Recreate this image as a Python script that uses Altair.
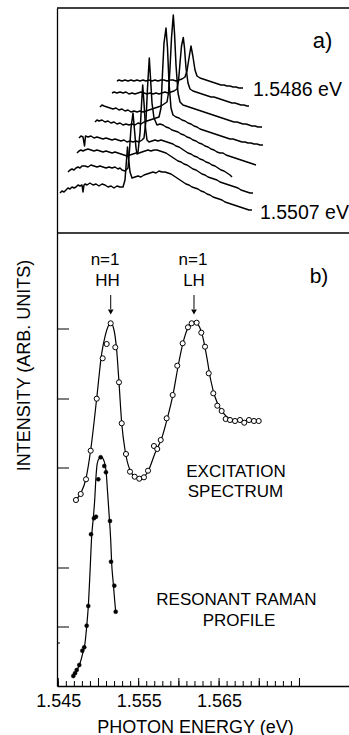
import altair as alt
import pandas as pd

FONT = "Liberation Sans"

# ---------------- Panel a) : waterfall of 8 spectra (arbitrary units) ----------------
t1_x = [3,5,7,9,11,13,15,17,19,21,23,25,26,27,28,30,33,36,39,42,45,48,51,54,57,60,63,66,68,69.5,70.5,71.5,73,75,78,81,84,87,90,93,96,99,102,105,108,111,114,117,120,123,126,129,132,135,138,141,144,147,150,153,156,159,162,165,168,171,174,177,180,183,186,189,192,195]
t1_y = [40,42,41,43,45,44,46,45,46,48,47,48,41,48,49,48,50,48,49,47,49,48,46,47,45,47,46,46,53,73,86,75,61,55,56,57,56,58,59,60,61,60,62,61,61,60,59,57,55,53,51,49,48,46,45,44,42,41,39,38,36,35,34,33,31,30,29,28,27,26,25,24,23,23,22,21]

t2_x = [11,13,15,17,19,21,23,25,28,31,34,37,40,43,46,49,52,55,58,61,63,65,68,71,72.5,74,76,77.5,79,80,82,85,88,91,94,97,100,103,106,109,112,115,118,121,124,127,130,133,136,139,142,145,148,151,154,157,160,163,166,169,172,175,178,181,184,187,190,193,196]
t2_y = [61,63,64,63,65,66,65,67,67,66,68,67,66,67,66,65,66,65,66,64,65,63,62,65,83,105,120,103,85,79,80,81,82,83,82,83,83,82,81,80,78,76,74,72,71,69,68,66,64,63,61,59,58,56,55,54,53,51,50,49,48,47,46,45,43,42,41,40,40]

t3_x = [20,22,24,26,28,31,34,37,40,43,46,49,52,55,58,61,64,67,70,73,76,79,81,83,84.5,85.7,87,88.5,90,92,95,98,101,104,107,110,113,116,119,122,125,128,131,134,137,140,143,146,149,152,155,158,161,164,167,170,173,175]
t3_y = [80,82,83,82,83,84,83,82,83,82,81,82,81,80,81,80,79,78,77,78,79,80,81,100,128,148,130,105,93,91,92,93,92,93,92,91,90,89,87,86,84,82,80,79,77,76,74,73,71,70,68,67,65,63,62,60,58,56]

t4_x = [22,24,26,27.5,28.5,31,34,37,40,43,46,49,52,55,58,61,64,67,70,73,76,79,82,85,87,89,90.5,92.3,93.5,95,97,100,103,106,109,112,115,118,121,124,127,130,133,136,139,142,145,148,151,154,157,160,163,166,169,172,175,178,181,184,187,190,193,196,199]
t4_y = [95,97,96,87,97,96,97,95,96,95,94,95,94,93,94,93,92,93,91,92,91,92,91,93,95,113,145,175,155,130,115,108,109,108,106,105,103,102,101,99,98,96,95,93,92,90,89,87,86,84,83,81,80,80,78,77,76,75,74,73,72,71,70,69,68]

t5_x = [38,40,42,45,48,51,54,57,60,63,66,69,72,75,78,81,84,87,90,93,96,99,102,104,105.5,107,109,110.5,112,114,116,119,122,125,128,131,134,137,140,143,146,149,152,155,158,161,164,167,170,173,176,179,182,185,188,191,194,197,200,203,206]
t5_y = [111,113,112,113,111,112,110,111,109,110,108,109,108,109,108,110,109,111,112,113,114,115,116,125,160,190,205,185,150,125,118,116,115,113,112,110,109,107,106,104,103,102,101,100,99,98,97,96,95,94,94,93,92,91,91,90,90,89,89,88,88]

t6_x = [43,45,47,50,53,56,59,62,65,68,71,74,77,80,83,86,89,92,95,98,101,104,107,110,111.5,113,114.5,116.3,117.5,119,121,123,126,129,132,135,138,141,144,147,150,153,156,159,162,165,168,171,174,177,180,183,186,189,192,195,198,201,205]
t6_y = [126,128,127,126,125,124,125,123,124,122,123,121,122,121,122,121,122,123,124,125,126,127,129,131,140,165,195,218,200,168,140,131,128,127,126,125,124,123,122,121,120,119,118,117,116,115,114,113,112,111,111,110,109,109,108,107,107,106,106]

t7_x = [55,57,60,63,66,69,72,75,78,81,84,87,90,93,96,99,102,105,108,111,114,117,120,121.5,123,124.5,126.3,127.5,129,131,133,136,139,142,145,148,151,154,157,160,163,166,169,172,175,178,181,184,187,190,192]
t7_y = [140,141,140,141,140,141,139,140,139,140,141,140,139,140,139,140,139,140,141,140,141,142,144,152,170,187,195.5,185,165,150,144,142,141,140,139,138,137,136,136,135,134,133,132,131,130,130,129,128,128,127,127]

t8_x = [60,62,65,68,71,74,77,80,83,86,89,92,95,98,101,104,107,110,113,116,119,122,125,128,130,132,134,136,138,140,143,146,149,152,155,158,161,164,167,170,173,176,179,182,186]
t8_y = [152,153,152,153,152,153,152,153,152,153,152,153,152,153,152,153,153,152,153,153,152,153,154,156,162,175,187,176,163,157,155,154,153,152,151,150,149,148,148,147,147,146,146,145,145]

traces_a = [(t1_x, t1_y), (t2_x, t2_y), (t3_x, t3_y), (t4_x, t4_y),
            (t5_x, t5_y), (t6_x, t6_y), (t7_x, t7_y), (t8_x, t8_y)]

rows = []
for k, (xs, ys) in enumerate(traces_a):
    for i, (xv, yv) in enumerate(zip(xs, ys)):
        rows.append({"trace": k + 1, "i": i, "x": xv, "y": yv})
df_a = pd.DataFrame(rows)

a_labels = ["a)", "1.5486 eV", "1.5507 eV"]
a_lab_x = [265.5, 196, 203]
a_lab_y = [192.5, 143.5, 20]
a_lab_align = ["center", "left", "left"]
df_a_lab = pd.DataFrame({"t": a_labels, "x": a_lab_x, "y": a_lab_y, "al": a_lab_align})

XA = alt.Scale(domain=[0, 292], nice=False, zero=False)
YA = alt.Scale(domain=[-453, 225], nice=False, zero=False)

a_lines = alt.Chart(df_a).mark_line(color="black", strokeWidth=1.5, strokeJoin="round").encode(
    x=alt.X("x:Q", scale=XA, axis=None),
    y=alt.Y("y:Q", scale=YA, axis=None),
    detail="trace:N",
    order="i:Q",
)
a_text_c = alt.Chart(df_a_lab[df_a_lab.al == "center"]).mark_text(
    font=FONT, fontSize=22, align="center", baseline="middle", color="black"
).encode(x=alt.X("x:Q", scale=XA, axis=None), y=alt.Y("y:Q", scale=YA, axis=None), text="t:N")
a_text_l = alt.Chart(df_a_lab[df_a_lab.al == "left"]).mark_text(
    font=FONT, fontSize=19.5, align="left", baseline="middle", color="black"
).encode(x=alt.X("x:Q", scale=XA, axis=None), y=alt.Y("y:Q", scale=YA, axis=None), text="t:N")

frame_top = alt.Chart(pd.DataFrame({"k": [0]})).mark_rule(color="black", strokeWidth=1.3).encode(
    x=alt.value(0), x2=alt.value(292), y=alt.value(0))
frame_sep = alt.Chart(pd.DataFrame({"k": [0]})).mark_rule(color="black", strokeWidth=1.3).encode(
    x=alt.value(0), x2=alt.value(292), y=alt.value(225))

panel_a = alt.layer(a_lines, a_text_c, a_text_l, frame_top, frame_sep)

# ---------------- Panel b) : excitation spectrum & resonant Raman profile ----------------
exc_E = [1.54720,1.54779,1.54845,1.54903,1.54978,1.55052,1.55102,1.55152,1.55209,1.55255,1.55289,1.55342,1.55392,1.55450,1.55507,1.55566,1.55616,1.55690,1.55731,1.55774,1.55848,1.55923,1.55980,1.56047,1.56113,1.56159,1.56221,1.56279,1.56325,1.56371,1.56428,1.56478,1.56532,1.56582,1.56636,1.56698,1.56760,1.56813,1.56872,1.56934,1.56993]
exc_I = [186,192,206.7,235.3,287.3,327.7,342,362.7,338.7,303.7,262.7,232,214.3,209.3,207.3,208.7,215.3,240,237,246,267.7,291,320.3,342.7,358.7,362.7,363.3,353.3,339.3,312.7,292.7,280.3,275,267,266,265,266,263.3,266,265,265]

exc_fit_E = [1.54720,1.54779,1.54845,1.54903,1.54978,1.55040,1.55081,1.55122,1.55156,1.55193,1.55226,1.55255,1.55289,1.55330,1.55392,1.55483,1.55557,1.55624,1.55703,1.55786,1.55856,1.55930,1.55993,1.56055,1.56117,1.56179,1.56241,1.56296,1.56346,1.56396,1.56449,1.56511,1.56595,1.56677,1.56781,1.56884]
exc_fit_I = [186,192.7,207.7,236,287.7,332.7,349.3,360,362.7,356,336,303.7,262.7,236,216,207.7,208.7,216,232.7,247.7,267.7,292.7,321,344.3,358.7,363.3,361,349.3,329.3,306,289.3,277.7,269.3,266,265,265]

rr_E = [1.54687,1.54708,1.54729,1.54761,1.54799,1.54823,1.54853,1.54873,1.54907,1.54944,1.54969,1.54998,1.55027,1.55072,1.55093,1.55143,1.55156,1.55197,1.55214]
rr_I = [10,12.7,16,21,35.3,38.7,60.3,80,151.7,167.7,169.3,206.7,228.7,220,213.7,165,124.3,100.3,74.3]

rr_fit_E = [1.54674,1.54729,1.54770,1.54804,1.54832,1.54853,1.54873,1.54894,1.54915,1.54935,1.54953,1.54969,1.54985,1.55010,1.55040,1.55068,1.55093,1.55114,1.55134,1.55152,1.55164,1.55184,1.55201,1.55214]
rr_fit_I = [9.3,15.3,22.7,32.7,42.7,59.3,79.3,112.7,149.3,167.7,186,209.3,222.7,227.7,228.7,225.3,216,192.7,169.3,146,122.7,102.7,86,74.3]

x_tick_labels = [1.545, 1.555, 1.565]
minor_ticks = [1.545,1.546,1.547,1.548,1.549,1.550,1.551,1.552,1.553,1.554,1.555,1.556,1.557,1.558,1.559,1.560,1.561,1.562,1.563,1.564,1.565,1.566,1.567,1.568,1.569,1.570,1.571,1.572,1.573,1.574,1.575]
major_ticks = [1.545, 1.550, 1.555, 1.560, 1.565, 1.570, 1.575]
y_ticks = [357, 287, 218, 118, 59]
y_small_ticks = [43]

arrow_E = [1.55152, 1.56188]
arrow_top = [391, 391]
arrow_bot = [377, 377]
arrow_tip = [374, 374]

b_labels = ["n=1", "HH", "n=1", "LH", "b)", "EXCITATION", "SPECTRUM", "RESONANT RAMAN", "PROFILE"]
b_lab_E = [1.55082, 1.55112, 1.56175, 1.56188, 1.57743, 1.56710, 1.56704, 1.56716, 1.56748]
b_lab_I = [426, 405, 426, 405, 409, 214, 194, 86, 65.5]
b_lab_size = [17, 17, 17, 17, 21, 17, 17, 17, 17]

XB = alt.Scale(domain=[1.54484, 1.58116], nice=False, zero=False)
YB = alt.Scale(domain=[0, 678], nice=False, zero=False)

AX_X = alt.Axis(values=x_tick_labels, format=".3f", ticks=False, grid=False,
                domain=True, domainColor="black", domainWidth=1.3, labelPadding=6,
                labelFont=FONT, labelFontSize=18, labelColor="black",
                title="PHOTON ENERGY (eV)", titleFont=FONT, titleFontSize=18,
                titleFontWeight="normal", titleColor="black",
                titleX=138, titleY=46, titleBaseline="alphabetic", titleAlign="center")
AX_Y = alt.Axis(ticks=False, labels=False, grid=False, domain=True, domainColor="black", domainWidth=1.3,
                title="INTENSITY (ARB. UNITS)", titleFont=FONT, titleFontSize=18,
                titleFontWeight="normal", titleColor="black", titleAngle=270,
                titleX=-33, titleY=357, titleAlign="center", titleBaseline="middle")


def xb(field="E"):
    return alt.X(f"{field}:Q", scale=XB, axis=AX_X)


def yb(field="I"):
    return alt.Y(f"{field}:Q", scale=YB, axis=AX_Y)


df_exc = pd.DataFrame({"E": exc_E, "I": exc_I})
df_exc_fit = pd.DataFrame({"E": exc_fit_E, "I": exc_fit_I})
df_rr = pd.DataFrame({"E": rr_E, "I": rr_I})
df_rr_fit = pd.DataFrame({"E": rr_fit_E, "I": rr_fit_I})

exc_line = alt.Chart(df_exc_fit).mark_line(color="black", strokeWidth=1.2, interpolate="monotone").encode(
    x=xb(), y=yb())
exc_pts = alt.Chart(df_exc).mark_point(shape="circle", filled=True, fill="white", stroke="black",
                                       strokeWidth=1, size=26, opacity=1).encode(x=xb(), y=yb())
rr_line = alt.Chart(df_rr_fit).mark_line(color="black", strokeWidth=1.2, interpolate="monotone").encode(
    x=xb(), y=yb())
rr_pts = alt.Chart(df_rr).mark_point(shape="circle", filled=True, fill="black", stroke="black",
                                     strokeWidth=0.5, size=16, opacity=1).encode(x=xb(), y=yb())

df_minor = pd.DataFrame({"E": minor_ticks})
df_major = pd.DataFrame({"E": major_ticks})
xt_minor = alt.Chart(df_minor).mark_rule(color="black", strokeWidth=1).encode(
    x=xb(), y=alt.value(678), y2=alt.value(673))
xt_major = alt.Chart(df_major).mark_rule(color="black", strokeWidth=1).encode(
    x=xb(), y=alt.value(678), y2=alt.value(670))
df_yt = pd.DataFrame({"I": y_ticks})
yt = alt.Chart(df_yt).mark_rule(color="black", strokeWidth=1).encode(
    y=yb(), x=alt.value(0), x2=alt.value(12))
df_yts = pd.DataFrame({"I": y_small_ticks})
yts = alt.Chart(df_yts).mark_rule(color="black", strokeWidth=1).encode(
    y=yb(), x=alt.value(0), x2=alt.value(3))

df_arrow = pd.DataFrame({"E": arrow_E, "I": arrow_top, "bot": arrow_bot, "tip": arrow_tip})
arrow_shaft = alt.Chart(df_arrow).mark_rule(color="black", strokeWidth=1).encode(
    x=xb(), y=yb(), y2=alt.Y2("bot:Q"))
arrow_head = alt.Chart(df_arrow).mark_point(shape="triangle-down", filled=True, color="black",
                                            size=32, opacity=1).encode(
    x=xb(), y=alt.Y("tip:Q", scale=YB, axis=AX_Y))

df_b_lab = pd.DataFrame({"t": b_labels, "E": b_lab_E, "I": b_lab_I, "s": b_lab_size})
b_text_small = alt.Chart(df_b_lab[df_b_lab.s == 17]).mark_text(
    font=FONT, fontSize=17, align="center", baseline="middle", color="black").encode(
    x=xb(), y=yb(), text="t:N")
b_text_big = alt.Chart(df_b_lab[df_b_lab.s == 21]).mark_text(
    font=FONT, fontSize=21, align="center", baseline="middle", color="black").encode(
    x=xb(), y=yb(), text="t:N")

panel_b = alt.layer(exc_line, exc_pts, rr_line, rr_pts, xt_minor, xt_major, yt, yts,
                    arrow_shaft, arrow_head, b_text_small, b_text_big)

chart = alt.layer(panel_b, panel_a).resolve_scale(x="independent", y="independent").properties(
    width=292, height=678,
    autosize=alt.AutoSizeParams(type="none"),
    padding={"left": 57, "top": 8, "right": 0, "bottom": 49},
    background="white",
).configure_view(stroke=None)

chart.save("out.html", embed_options={"renderer": "svg", "actions": False})
